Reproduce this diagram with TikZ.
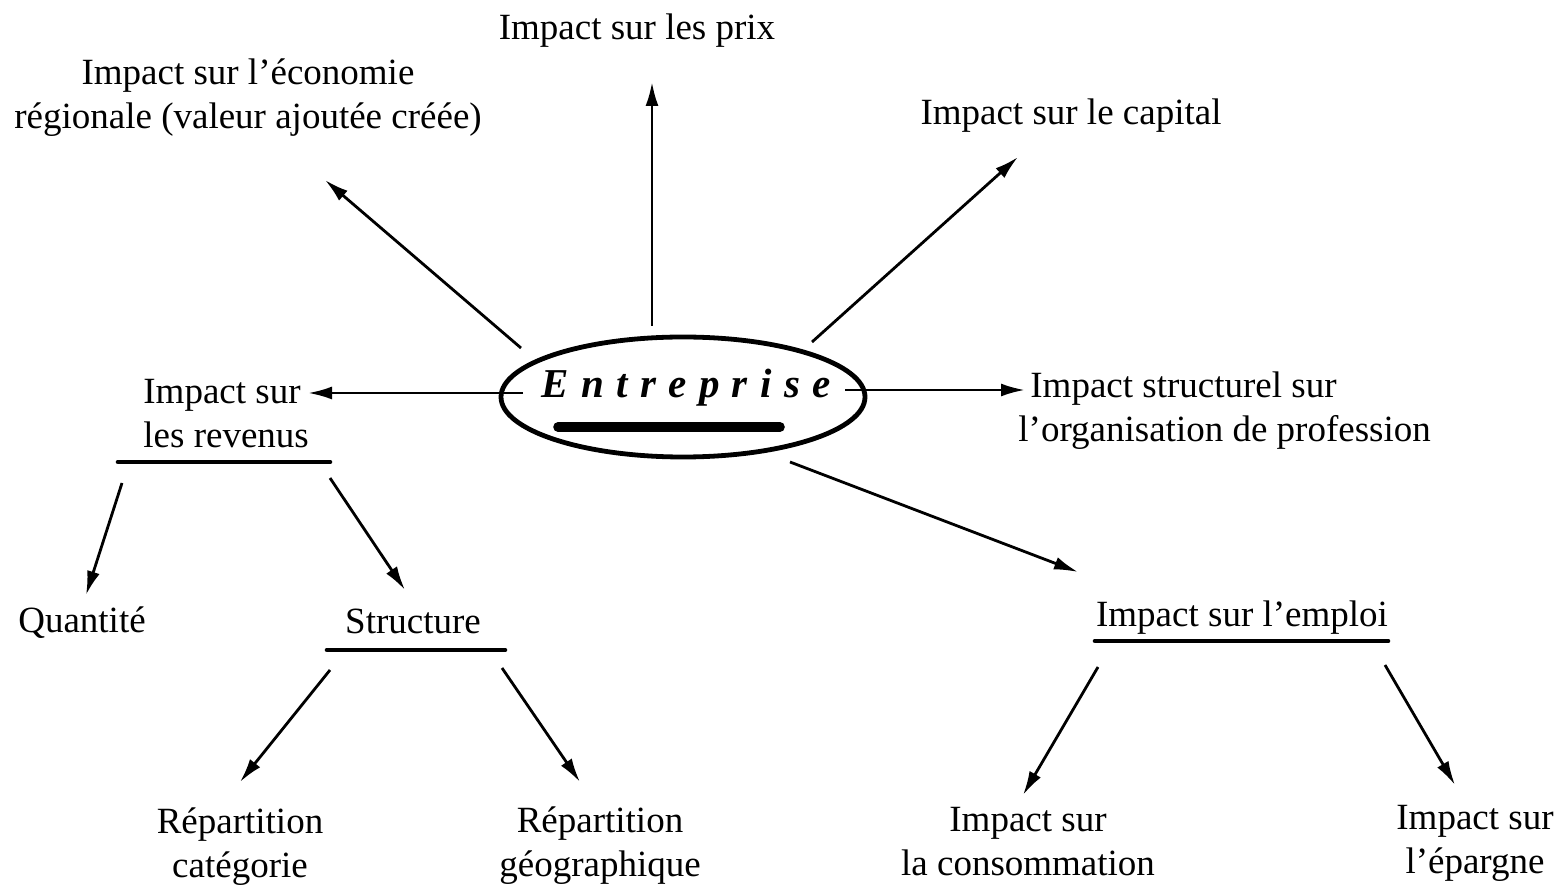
\documentclass[tikz,border=0pt]{standalone}
\usepackage{fontspec}
\setmainfont{Liberation Serif}
\usetikzlibrary{arrows.meta,shapes.geometric}
\tikzset{
  lbl/.style={inner sep=0pt, align=center, font=\fontsize{18.5pt}{22pt}\selectfont},
  lblL/.style={inner sep=0pt, align=left, anchor=west, font=\fontsize{18.5pt}{22pt}\selectfont},
  arr/.style={line width=1.4pt, -{Latex[length=12pt,width=6.5pt]}},
  uline/.style={line width=2.3pt, line cap=round},
}
\begin{document}
\begin{tikzpicture}[x=0.5pt,y=-0.5pt]
\useasboundingbox (0,0) rectangle (1561,886);
% central ellipse
\node[draw, line width=2.4pt, ellipse, minimum width=364*0.5pt, minimum height=120*0.5pt, inner sep=0pt] (ent) at (683,397) {};
\node[inner sep=0pt, font=\fontsize{20.5pt}{24pt}\selectfont\bfseries\itshape] (enttxt) at (686,388)
  {E\kern6.2pt n\kern6.2pt t\kern6.2pt r\kern6.2pt e\kern6.2pt p\kern6.2pt r\kern6.2pt i\kern6.2pt s\kern6.2pt e};
\draw[line width=4.8pt, line cap=round] (558,427) -- (780,427);
% labels
\node[lbl] (prix) at (637,31) {Impact sur les prix};
\node[lbl] (reg) at (248,98) {Impact sur l’économie\\régionale (valeur ajoutée créée)};
\node[lbl] (cap) at (1071,116) {Impact sur le capital};
\node[lblL] (rev) at (143,414) {Impact sur\\les revenus};
\node[lblL] (str) at (1018,411) {\kern6pt Impact structurel sur\\l’organisation de profession};
\node[lbl] (emp) at (1242,618) {Impact sur l’emploi};
\node[lbl] (cons) at (1028,842) {Impact sur\\la consommation};
\node[lbl] (epa) at (1475,843) {Impact sur\\l’épargne};
\node[lbl] (qte) at (82,623) {Quantité};
\node[lbl] (struc) at (413,621) {Structure};
\node[lbl] (rcat) at (240,847) {Répartition\\catégorie};
\node[lbl] (rgeo) at (600,846) {Répartition\\géographique};
% underlines
\draw[uline] (118,462) -- (330,462);
\draw[uline] (327,650) -- (505,650);
\draw[uline] (1095,641) -- (1388,641);
% arrow end points
\coordinate (a1s) at (652,326); \coordinate (a1e) at (652,82);
\coordinate (a2s) at (521,348); \coordinate (a2e) at (325,180);
\coordinate (a3s) at (812,342); \coordinate (a3e) at (1018,157);
\coordinate (a4s) at (523,393); \coordinate (a4e) at (308,393);
\coordinate (a5s) at (845,390); \coordinate (a5e) at (1025,390);
\coordinate (a6s) at (790,462); \coordinate (a6e) at (1078,572);
\coordinate (a7s) at (122,483); \coordinate (a7e) at (86,595);
\coordinate (a8s) at (330,478); \coordinate (a8e) at (405,590);
\coordinate (a9s) at (330,670); \coordinate (a9e) at (240,782);
\coordinate (a10s) at (502,668); \coordinate (a10e) at (580,782);
\coordinate (a11s) at (1098,667); \coordinate (a11e) at (1023,795);
\coordinate (a12s) at (1385,665); \coordinate (a12e) at (1455,785);
\foreach \i in {1,...,12} { \draw[arr] (a\i s) -- (a\i e); }
\end{tikzpicture}
\end{document}
